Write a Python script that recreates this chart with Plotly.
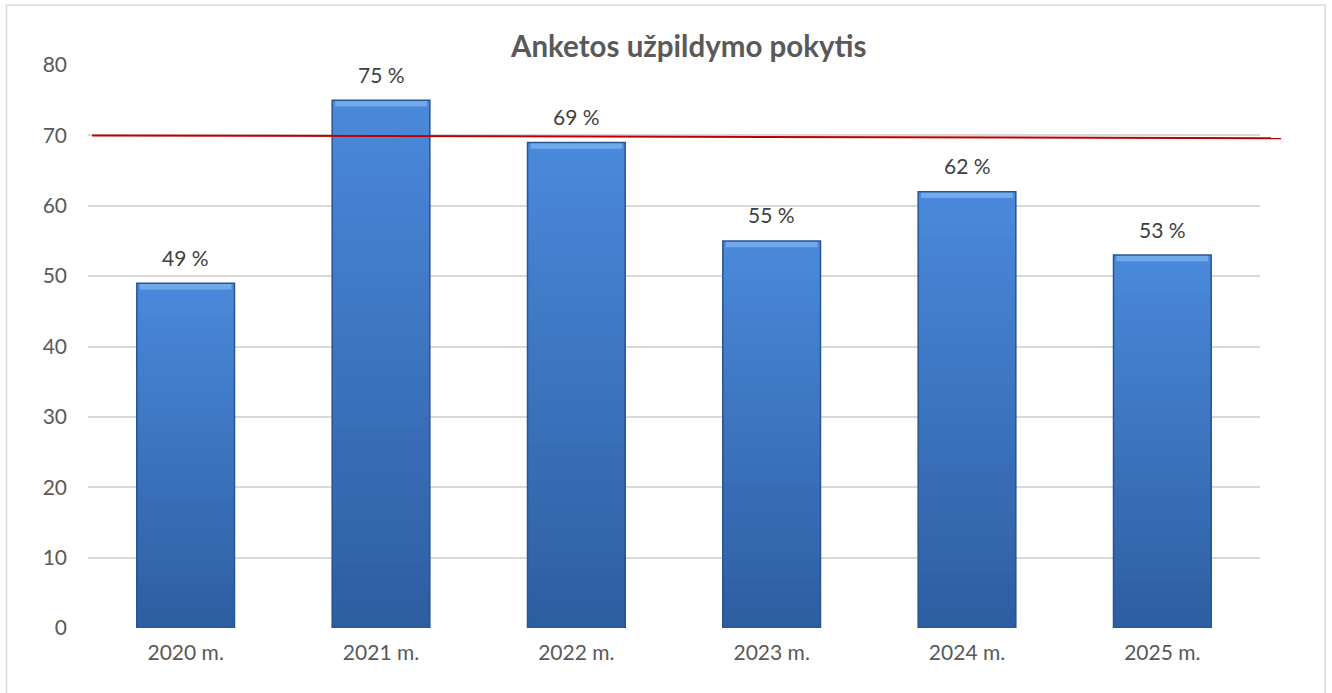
import plotly.graph_objects as go

# ---- data ----
categories = ["2020 m.", "2021 m.", "2022 m.", "2023 m.", "2024 m.", "2025 m."]
values = [49, 75, 69, 55, 62, 53]
label_texts = ["49 %", "75 %", "69 %", "55 %", "62 %", "53 %"]
target_line = [70, 69.6]          # red reference line (start, end)
y_ticks = [0, 10, 20, 30, 40, 50, 60, 70, 80]
title_text = "Anketos užpildymo pokytis"

FONT = "Lato, 'Open Sans', sans-serif"
TEXT = "#595959"

fig = go.Figure()

# gradient bars via overlaid bars of decreasing height (light top -> dark bottom)
N = 40
top_rgb = (74, 137, 218)
bot_rgb = (46, 94, 162)
for i in range(N):
    frac = 1 - i / N
    t = i / (N - 1)
    c = tuple(int(round(top_rgb[k] + (bot_rgb[k] - top_rgb[k]) * t)) for k in range(3))
    fig.add_trace(go.Bar(
        x=categories, y=[v * frac for v in values],
        marker=dict(color="rgb(%d,%d,%d)" % c, line=dict(width=0)),
        width=0.5, hoverinfo="skip", showlegend=False,
    ))

# top bevel highlight
bevel = 0.9
fig.add_trace(go.Bar(
    x=categories, y=[bevel] * len(values), base=[v - bevel for v in values],
    marker=dict(color="rgb(112,170,236)", line=dict(width=0)),
    width=0.47, hoverinfo="skip", showlegend=False,
))

# outline
fig.add_trace(go.Bar(
    x=categories, y=values,
    marker=dict(color="rgba(0,0,0,0)", line=dict(width=1.5, color="rgb(40,84,148)")),
    width=0.5, hoverinfo="skip", showlegend=False,
))

# red reference line
fig.add_shape(type="line", xref="paper", yref="y",
              x0=0.0035, x1=1.018, y0=target_line[0], y1=target_line[1],
              line=dict(color="#c00000", width=2))

# chart border
fig.add_shape(type="rect", xref="paper", yref="paper",
              x0=-0.0695, x1=1.0555, y0=-0.2, y1=1.1066,
              line=dict(color="#d9d9d9", width=1.5), fillcolor="rgba(0,0,0,0)",
              layer="above")

# data labels
for c, v, t in zip(categories, values, label_texts):
    fig.add_annotation(x=c, y=v, text=t, showarrow=False, yshift=26,
                       font=dict(family=FONT, size=21, color="#404040"))

# title
fig.add_annotation(xref="paper", yref="paper", x=0.512, y=1.0, yanchor="bottom",
                   yshift=0, text="<b>%s</b>" % title_text, showarrow=False,
                   font=dict(family=FONT, size=29.5, color=TEXT))

fig.update_layout(
    width=1332, height=693,
    margin=dict(l=88, r=72, t=65, b=65),
    barmode="overlay",
    bargap=0.5,
    paper_bgcolor="white", plot_bgcolor="white",
    font=dict(family=FONT, color=TEXT, size=21),
    showlegend=False,
)
fig.update_xaxes(showgrid=False, showline=False, zeroline=False, ticks="",
                 tickfont=dict(family=FONT, size=21, color=TEXT),
                 ticklabelstandoff=10)
fig.update_yaxes(range=[0, 80], tickvals=y_ticks, showgrid=True,
                 gridcolor="#d9d9d9", gridwidth=1.5, zeroline=False, showline=False,
                 tickfont=dict(family=FONT, size=21, color=TEXT),
                 ticklabelstandoff=20)

fig.write_html("out.html", config={"displayModeBar": False},
               post_script="document.body.style.margin='0';document.body.style.overflow='hidden';")
